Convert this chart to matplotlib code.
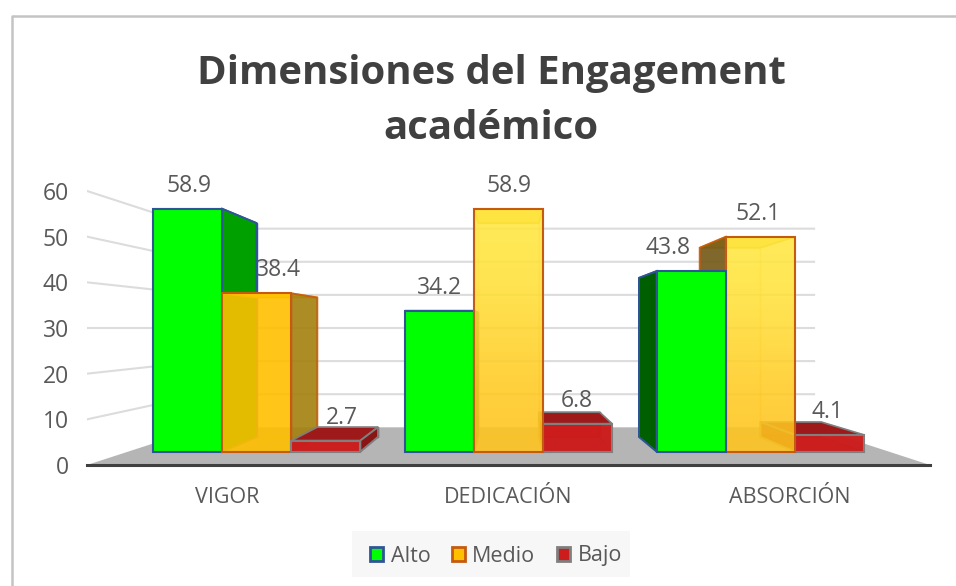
import matplotlib
matplotlib.use('Agg')
import matplotlib.pyplot as plt
from matplotlib.colors import LinearSegmentedColormap
from matplotlib.lines import Line2D
from matplotlib.patches import Patch, Rectangle

plt.rcParams['font.family'] = ['Open Sans', 'DejaVu Sans']

categories = ['VIGOR', 'DEDICACIÓN', 'ABSORCIÓN']
series = ['Alto', 'Medio', 'Bajo']
alto = [58.9, 34.2, 43.8]
medio = [38.4, 58.9, 52.1]
bajo = [2.7, 6.8, 4.1]
yticks = [0, 10, 20, 30, 40, 50, 60]

# label nudges in pixels, same order as the values
nudge_alto = [1, 0, -23]
nudge_medio = [22, 0, -2]
nudge_bajo = [16, -1, -2]

values = [alto, medio, bajo]
nudges = [nudge_alto, nudge_medio, nudge_bajo]

# fake 3d: everything shrinks towards a vanishing point
vx, vy = 1.0, 30.0
s_axis, s_front, s_back, s_wall = 1.0, 0.903, 0.795, 0.725
bar_w = 0.272
group_gap = 0.992

front_col = ['#00ff00', '#ffc000', '#cc1c1c']
edge_col = ['#2f5597', '#c55a11', '#7f7f7f']
front_alpha = [1.0, 0.87, 0.97]
right_col = ['#00a000', '#a07f10', '#8a1515']
left_col = ['#005f00', '#6f5518', '#8a1515']
top_col = ['#00a000', '#f5d030', '#9e1a1a']
inner_edge = ['#2f5597', '#f2a900', '#8a3030']


def px(x, s):
    return vx + (x - vx) * s


def py(v, s):
    return vy + (v - vy) * s


def face(x0, v0, s0, x1, v1, s1, **kw):
    # quad between a front edge and a back edge
    pts = [(px(x0, s0), py(v0, s0)), (px(x1, s0), py(v1, s0)),
           (px(x1, s1), py(v1, s1)), (px(x0, s1), py(v0, s1))]
    ax.fill([p[0] for p in pts], [p[1] for p in pts], **kw)


fig = plt.figure(figsize=(9.56, 5.86), dpi=100)
# chart frame is cropped: only the left and top sides are in the picture
fig.add_artist(Line2D([11.5 / 956, 11.5 / 956, 1], [0, 1 - 15.5 / 586, 1 - 15.5 / 586], transform=fig.transFigure,
                      color='#c4c4c4', lw=1.8, zorder=-5))
fig.add_artist(Rectangle((352 / 956, 1 - 577 / 586), 278 / 956, 46 / 586, transform=fig.transFigure,
                         fc='#f7f7f7', ec='none', zorder=-4))

ax = fig.add_axes([87 / 956, 121 / 586, 843 / 956, 70 * 4.567 / 586])
ax.patch.set_visible(False)
ax.set_xlim(-0.5, 2.5)
ax.set_ylim(0, 70)

# floor and walls
z = 1
face(-0.5, 0, s_axis, 2.5, 0, s_wall, fc='#b5b5b5', ec='none', zorder=z)
for t in yticks[1:]:
    ax.plot([px(-0.5, s_axis), px(-0.5, s_wall), px(2.5, s_wall)],
            [py(t, s_axis), py(t, s_wall), py(t, s_wall)], color='#dcdcdc', lw=1.5, zorder=z)

for i in range(len(categories)):
    xg = vx + (i - vx) * group_gap
    x_left = [xg - 1.5 * bar_w, xg - 0.5 * bar_w, xg + 0.5 * bar_w]
    # paint the bars furthest from the middle first
    order = sorted(range(3), key=lambda k: -abs(x_left[k] + bar_w / 2 - vx))
    for k in order:
        v = values[k][i]
        x0 = x_left[k]
        x1 = x0 + bar_w
        fc, ec = front_col[k], edge_col[k]
        inner = dict(ec=inner_edge[k], lw=1.0)

        z += 1
        # inside of the box, only shows through the see-through bars
        ax.fill([px(x0, s_back), px(x1, s_back), px(x1, s_back), px(x0, s_back)],
                [py(0, s_back), py(0, s_back), py(v, s_back), py(v, s_back)],
                fc=fc, alpha=0.25 if k == 1 else 1.0, zorder=z, **inner)
        face(x0, 0, s_front, x1, 0, s_back, fc=fc, alpha=0.25, zorder=z, **inner)
        if x1 >= vx:
            face(x1, 0, s_front, x1, v, s_back, fc=fc, alpha=0.2, zorder=z, **inner)
        if x0 <= vx:
            face(x0, 0, s_front, x0, v, s_back, fc=fc, alpha=0.2, zorder=z, **inner)

        z += 1
        # top, seen from above or from below
        tc = ec if v < vy else inner_edge[k]
        face(x0, v, s_front, x1, v, s_back, fc=top_col[k], ec=tc, lw=1.2, zorder=z)

        z += 1
        # the side that faces the middle
        for xs, col, show in [(x1, right_col[k], x1 < vx), (x0, left_col[k], x0 > vx)]:
            if show:
                sx = [px(xs, s_front), px(xs, s_front), px(xs, s_back), px(xs, s_back)]
                sy = [py(0, s_front), py(v, s_front), py(v, s_back), py(0, s_back)]
                ax.fill(sx, sy, fc=col, ec=ec, lw=1.4, alpha=0.88 if k == 1 else 1.0, zorder=z)

        z += 1
        if k == 1 and i > 0:
            # the lighter yellow fade on the two right hand boxes
            fade = LinearSegmentedColormap.from_list('fade', ['#ffc41f', '#ffea45'])
            ax.imshow([[1], [0]], cmap=fade, aspect='auto', interpolation='bicubic', alpha=0.85, zorder=z,
                      extent=(px(x0, s_front), px(x1, s_front), py(0, s_front), py(v, s_front)))
            ax.set_xlim(-0.5, 2.5)
            ax.set_ylim(0, 70)
        else:
            ax.bar(px(x0, s_front), py(v, s_front) - py(0, s_front), width=bar_w * s_front, bottom=py(0, s_front),
                   align='edge', color=fc, alpha=front_alpha[k], zorder=z)
        ax.bar(px(x0, s_front), py(v, s_front) - py(0, s_front), width=bar_w * s_front, bottom=py(0, s_front),
               align='edge', color='none', edgecolor=ec, lw=1.5, zorder=z)

for k in range(3):
    for i in range(len(categories)):
        xg = vx + (i - vx) * group_gap
        xc = px(xg + (k - 1) * bar_w, s_front)
        ax.annotate('%.1f' % values[k][i], (xc, py(values[k][i], s_front)), xytext=(nudges[k][i] * 0.72, 23 * 0.72),
                    textcoords='offset points', ha='center', va='center', fontsize=16.5, color='#595959', zorder=500)

ax.set_xticks(range(len(categories)))
ax.set_xticklabels(categories)
ax.set_yticks(yticks)
ax.tick_params(axis='x', length=0, pad=16, labelsize=15.5, labelcolor='#595959')
ax.tick_params(axis='y', length=0, pad=13, labelsize=16.5, labelcolor='#595959')
for side in ['top', 'left', 'right']:
    ax.spines[side].set_visible(False)
ax.spines['bottom'].set_color('#404040')
ax.spines['bottom'].set_linewidth(2.2)
ax.spines['bottom'].set_zorder(400)

fig.text(491 / 956, 1 - 101 / 586, 'Dimensiones del Engagement\nacadémico', ha='center', va='center',
         fontsize=28.9, fontweight='bold', color='#404040', linespacing=1.56)

handles = [Patch(fc=front_col[k], ec=edge_col[k], lw=2) for k in range(3)]
leg = fig.legend(handles, series, ncol=3, loc='center', bbox_to_anchor=(496 / 956, 1 - 556 / 586), fontsize=15.5,
                 frameon=False, handlelength=0.6, handleheight=0.6, handletextpad=0.35, columnspacing=1.0,
                 labelcolor='#595959', borderpad=0)

fig.savefig('out.png', dpi=100)
